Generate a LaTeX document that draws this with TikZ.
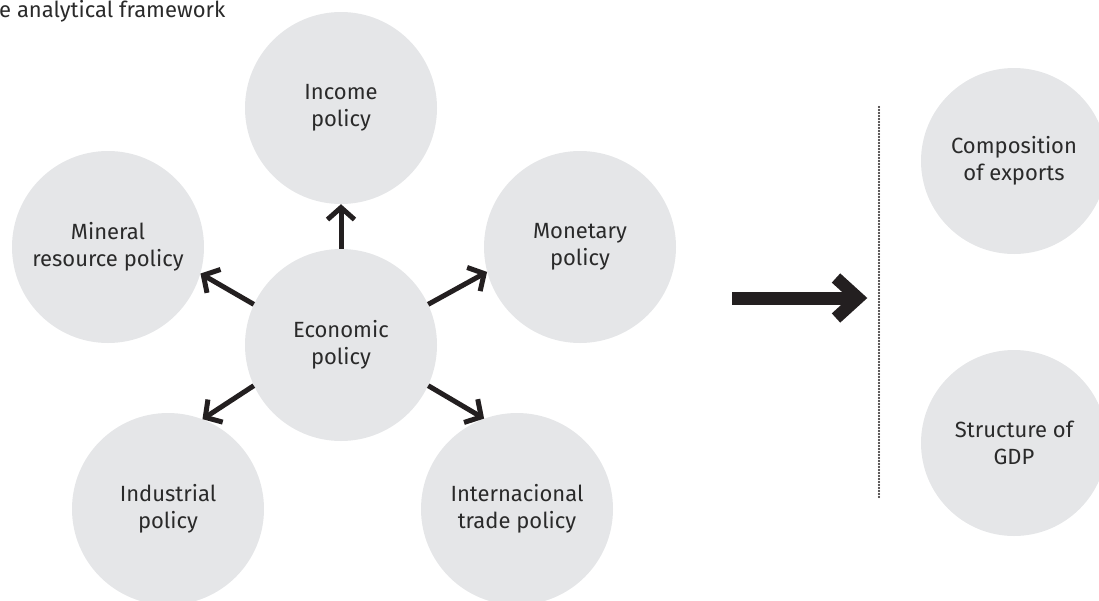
\documentclass[tikz,border=0pt]{standalone}
\usepackage{fontspec}
\setmainfont{Fira Sans}
\usetikzlibrary{arrows.meta}
\definecolor{circ}{HTML}{E5E6E8}
\definecolor{txt}{HTML}{2A2A2A}
\definecolor{ink}{HTML}{231F20}
\tikzset{
  bubble/.style={circle, fill=circ, minimum size=192pt, inner sep=0pt, align=center,
    text=txt, font=\fontsize{22pt}{27pt}\selectfont},
  rbubble/.style={bubble, minimum size=186pt},
  arr/.style={draw=ink, line width=5pt, -{Straight Barb[length=12pt, width=27pt, line width=5pt]}}
}
\begin{document}
\begin{tikzpicture}[x=1pt,y=-1pt]
\useasboundingbox (0,0) rectangle (1099,600);
\node[anchor=base west, text=txt, font=\fontsize{22pt}{26pt}\selectfont, inner sep=0pt] (title) at (-1,17) {e analytical framework};
\node[bubble] (income) at (341,108) {Income\\policy};
\node[bubble] (mineral) at (108,247) {Mineral\\resource policy};
\node[bubble] (monetary) at (580,247) {Monetary\\policy};
\node[bubble] (econ) at (341,345) {Economic\\policy};
\node[bubble] (industrial) at (168,509) {Industrial\\policy};
\node[bubble] (intl) at (517,509) {Internacional\\trade policy};
\node[rbubble] (comp) at (1014,161) {Composition\\of exports};
\node[rbubble] (gdp) at (1014,443) {Structure of\\GDP};
\draw[arr] (econ.90) -- (income.-90);
\draw[arr] (econ.155) -- (mineral.-16);
\draw[arr] (econ.25) -- (monetary.195);
\draw[arr] (econ.205) -- (industrial.69);
\draw[arr] (econ.-25) -- (intl.110);
\coordinate (bigs) at (732,298);
\coordinate (bigt) at (856,298);
\coordinate (dtop) at (879,107);
\coordinate (dbot) at (879,498);
\draw[ink, line width=13pt] (bigs) -- (bigt);
\draw[ink, line width=12.5pt, miter limit=10] ([shift={(-20,-20)}]bigt) -- ([shift={(2,0)}]bigt) -- ([shift={(-20,20)}]bigt);
\draw[ink, line width=2.4pt, line cap=round, dash pattern=on 0pt off 3pt] (dtop) -- (dbot);
\end{tikzpicture}
\end{document}
